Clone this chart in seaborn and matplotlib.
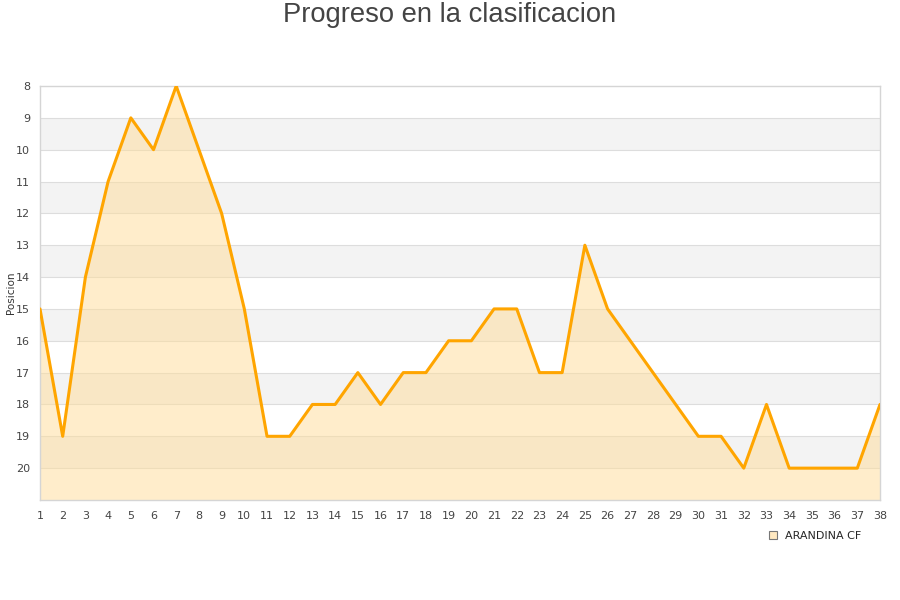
import matplotlib
matplotlib.use("Agg")
import matplotlib.pyplot as plt
from matplotlib.lines import Line2D
import seaborn as sns
import pandas as pd

jornadas = list(range(1, 39))
posiciones = [15, 19, 14, 11, 9, 10, 8, 10, 12, 15, 19, 19, 18, 18, 17, 18, 17, 17,
              16, 16, 15, 15, 17, 17, 13, 15, 16, 17, 18, 19, 19, 20, 18, 20, 20, 20, 20, 18]
y_ticks = list(range(8, 21))
equipo = "ARANDINA CF"
titulo = "Progreso en la clasificacion"

df = pd.DataFrame({"Jornada": jornadas, "Posicion": posiciones})

sns.set_style("white")
plt.rcParams['font.family'] = ['DejaVu Sans']

fig = plt.figure(figsize=(9, 6), dpi=100)
ax = fig.add_axes([40/900, 100/600, 840/900, 414/600])

# alternating bands
for y0 in range(8, 21):
    if y0 % 2 == 1:
        ax.axhspan(y0, y0 + 1, color="#f3f3f3", zorder=0, lw=0)
for y0 in range(9, 21):
    ax.axhline(y0, color="#dddddd", lw=0.8, zorder=1)

ax.fill_between(df["Jornada"], df["Posicion"], 21, color="#ffdd99", alpha=0.5, lw=0, zorder=2)
sns.lineplot(data=df, x="Jornada", y="Posicion", ax=ax, color="#ffa500", lw=2.2, zorder=3)

ax.set_xlim(1, 38)
ax.set_ylim(21, 8)
ax.set_xticks(jornadas)
ax.set_yticks(y_ticks)
ax.tick_params(axis="both", labelsize=8, colors="#444444", length=0, pad=8)
ax.tick_params(axis="y", pad=7)
ax.set_xlabel("")
ax.set_ylabel("Posicion", fontsize=7.5, color="#333333")
ax.yaxis.set_label_coords(-0.0285, 0.5)
for s in ax.spines.values():
    s.set_color("#d5d5d5")
    s.set_linewidth(1)

fig.text(0.5, 0.997, titulo, ha="center", va="top", fontsize=19.7, color="#444444",
         family=["Liberation Sans", "DejaVu Sans"])

handle = Line2D([0], [0], marker="s", linestyle="none", markersize=6,
                markerfacecolor="#ffe8c0", markeredgecolor="#777777", markeredgewidth=0.8)
fig.legend([handle], [equipo], loc="center left", bbox_to_anchor=(762/900, 1 - 536/600),
           frameon=False, fontsize=8, handletextpad=0.6, borderpad=0, handlelength=1)

fig.savefig("out.png", dpi=100)
